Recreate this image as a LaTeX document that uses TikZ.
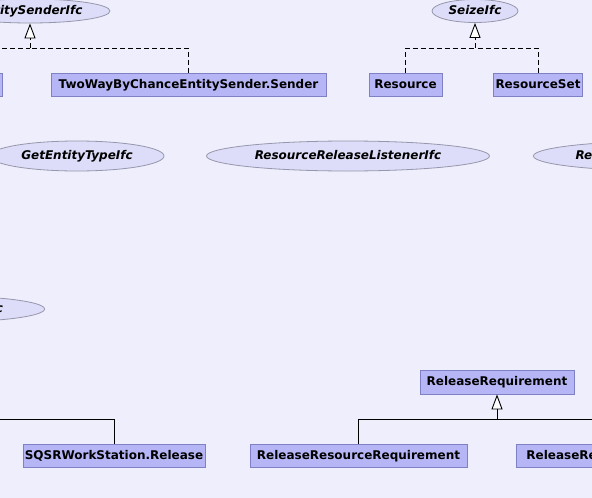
\documentclass[tikz,border=0pt]{standalone}
\usepackage{fontspec}
\newfontfamily\umlfont{DejaVu Sans}
\usetikzlibrary{arrows.meta,shapes.geometric}
\definecolor{bgcol}{RGB}{238,238,252}
\definecolor{clsfill}{RGB}{182,182,246}
\definecolor{clsline}{RGB}{128,128,196}
\definecolor{ifcfill}{RGB}{221,221,249}
\definecolor{ifcline}{RGB}{150,150,172}
\tikzset{
  cls/.style={rectangle, draw=clsline, fill=clsfill, inner sep=0pt, line width=0.8pt,
    minimum height=23pt, text height=8.8pt, text depth=1pt,
    font=\umlfont\bfseries\fontsize{12}{14}\selectfont},
  ifc/.style={ellipse, draw=ifcline, fill=ifcfill, inner sep=0pt, line width=0.8pt,
    text height=8.8pt, text depth=1pt,
    font=\umlfont\bfseries\itshape\fontsize{12}{14}\selectfont},
  impl/.style={line width=0.9pt, dash pattern=on 5pt off 3pt},
  ext/.style={line width=0.9pt},
  up/.style={-{Triangle[length=15pt,width=11pt,fill=white]}},
}
\begin{document}
\begin{tikzpicture}[x=1pt,y=-1pt]
  \useasboundingbox (0,0) rectangle (592,498);
  \fill[bgcol] (0,0) rectangle (592,498);
  \clip (0,0) rectangle (592,498);

  % interfaces
  \node[ifc, minimum width=160pt, minimum height=24pt] (senderifc) at (30,11) {EntitySenderIfc};
  \node[ifc, minimum width=86pt, minimum height=23pt] (seizeifc) at (475,11) {SeizeIfc};
  \node[ifc, minimum width=174pt, minimum height=30pt] (typeifc) at (77,156) {GetEntityTypeIfc};
  \node[ifc, minimum width=283pt, minimum height=30pt] (listenerifc) at (348,156) {ResourceReleaseListenerIfc};
  \node[ifc, minimum width=269pt, minimum height=30pt, anchor=west] (reifc) at (533,156) {Re\hspace*{168pt}};
  \node[ifc, minimum width=200pt, minimum height=26pt, anchor=east] (leftifc) at (45,309) {\hspace*{100pt}Ifc};

  % classes
  \node[cls, minimum width=62pt] (sendera) at (-29,84.5) {};
  \node[cls, minimum width=275pt] (sender) at (188.5,84.5) {TwoWayByChanceEntitySender.Sender};
  \node[cls, minimum width=73pt] (resource) at (405.5,84.5) {Resource};
  \node[cls, minimum width=89pt] (resourceset) at (538,84.5) {ResourceSet};
  \node[cls, minimum width=154pt, minimum height=24pt] (relreq) at (497,382) {ReleaseRequirement};
  \node[cls, minimum width=182pt] (sqsr) at (114,456) {SQSRWorkStation.Release};
  \node[cls, minimum width=217pt] (relresreq) at (358.5,455.5) {ReleaseResourceRequirement};
  \node[cls, inner xsep=10pt, anchor=west] (relre) at (516,455.5) {ReleaseRe\hspace*{120pt}};

  \coordinate (senderbus) at (30,48);
  \coordinate (seizebus) at (475,48);
  \coordinate (relbus) at (497,419);
  \coordinate (leftbus) at (-30,419);

  % realizations
  \draw[impl] (sendera.north) |- (senderbus);
  \draw[impl] (sender.north) |- (senderbus);
  \draw[impl, up] (senderbus) -- (senderifc.south);
  \draw[impl] (resource.north) |- (seizebus);
  \draw[impl] (resourceset.north) |- (seizebus);
  \draw[impl, up] (seizebus) -- (seizeifc.south);

  % generalizations
  \draw[ext] (sqsr.north) |- (leftbus);
  \draw[ext] (relresreq.north) |- (relbus);
  \draw[ext] (relre.north) |- (relbus);
  \draw[ext, up] (relbus) -- (relreq.south);
\end{tikzpicture}
\end{document}
